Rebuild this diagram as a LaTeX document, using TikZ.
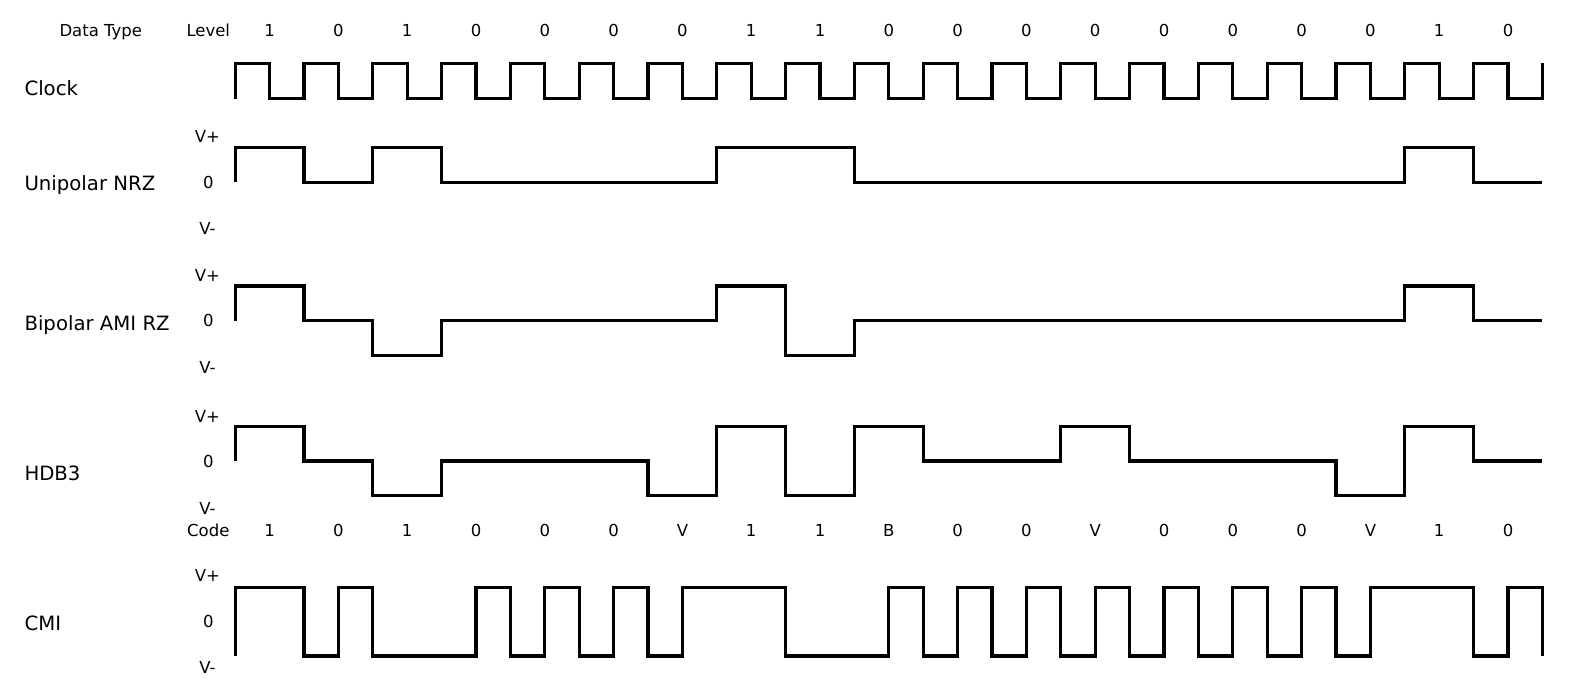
\documentclass[tikz,border=0pt]{standalone}
\usepackage{fontspec}
\setmainfont{DejaVu Sans}
\begin{document}
\begin{tikzpicture}[x=1pt,y=-1pt,
  wave/.style={line width=3.2pt, line join=miter},
  small/.style={font=\fontsize{16.5}{18}\selectfont, inner sep=0pt, anchor=base},
  big/.style={font=\fontsize{19.7}{22}\selectfont, inner sep=0pt, anchor=base west}]
\useasboundingbox[fill=white] (0,0) rectangle (1578,694);

% header row
\node[small] (datatype) at (100.8,36.5) {Data Type};
\node[small] (level) at (208.3,36.5) {Level};
\foreach \v [count=\i] in {1,0,1,0,0,0,0,1,1,0,0,0,0,0,0,0,0,1,0}
  \node[small] (d\i) at ({235.2+68.8*(\i-0.5)},36.5) {\v};

% code row
\node[small] (code) at (208.3,536) {Code};
\foreach \v [count=\i] in {1,0,1,0,0,0,V,1,1,B,0,0,V,0,0,0,V,1,0}
  \node[small] (c\i) at ({235.2+68.8*(\i-0.5)},536) {\v};

% row names
\node[big] (lclock) at (24.3,95) {Clock};
\node[big] (lnrz) at (24.3,190) {Unipolar NRZ};
\node[big] (lami) at (24.3,330) {Bipolar AMI RZ};
\node[big] (lhdb) at (24.3,480) {HDB3};
\node[big] (lcmi) at (24.3,630.5) {CMI};

% level labels
\node[small] (nrzp) at (207.5,142.5) {V+};
\node[small] (nrz0) at (208.3,188.5) {0};
\node[small] (nrzm) at (207.5,234.5) {V-};
\node[small] (amip) at (207.5,281) {V+};
\node[small] (ami0) at (208.3,326.7) {0};
\node[small] (amim) at (207.5,373) {V-};
\node[small] (hdbp) at (207.5,422) {V+};
\node[small] (hdb0) at (208.3,467.5) {0};
\node[small] (hdbm) at (207.5,514) {V-};
\node[small] (cmip) at (207.5,581.7) {V+};
\node[small] (cmi0) at (208.3,627.7) {0};
\node[small] (cmim) at (207.5,673.3) {V-};

\begin{scope}[x=34.4pt, xshift=235.2pt]
% clock
\draw[wave] (0,98.7) foreach \k in {0,...,18} { -- (2*\k,63.3) -- (2*\k+1,63.3) -- (2*\k+1,98.7) -- (2*\k+2,98.7) } -- (38,63.3);
% unipolar NRZ
\def\hi{147.3}\def\z{182.3}
\draw[wave] (0,\z) -- (0,\hi) -- (2,\hi) -- (2,\z) -- (4,\z) -- (4,\hi) -- (6,\hi) -- (6,\z)
  -- (14,\z) -- (14,\hi) -- (18,\hi) -- (18,\z) -- (34,\z) -- (34,\hi) -- (36,\hi) -- (36,\z) -- (38,\z);
% bipolar AMI
\def\hi{286}\def\z{320.7}\def\lo{355.5}
\draw[wave] (0,\z) -- (0,\hi) -- (2,\hi) -- (2,\z) -- (4,\z) -- (4,\lo) -- (6,\lo) -- (6,\z)
  -- (14,\z) -- (14,\hi) -- (16,\hi) -- (16,\lo) -- (18,\lo) -- (18,\z) -- (34,\z) -- (34,\hi)
  -- (36,\hi) -- (36,\z) -- (38,\z);
% HDB3
\def\hi{426.3}\def\z{461}\def\lo{495.7}
\draw[wave] (0,\z) -- (0,\hi) -- (2,\hi) -- (2,\z) -- (4,\z) -- (4,\lo) -- (6,\lo) -- (6,\z)
  -- (12,\z) -- (12,\lo) -- (14,\lo) -- (14,\hi) -- (16,\hi) -- (16,\lo) -- (18,\lo) -- (18,\hi)
  -- (20,\hi) -- (20,\z) -- (24,\z) -- (24,\hi) -- (26,\hi) -- (26,\z) -- (32,\z) -- (32,\lo)
  -- (34,\lo) -- (34,\hi) -- (36,\hi) -- (36,\z) -- (38,\z);
% CMI
\def\hi{587.7}\def\lo{656}
\draw[wave] (0,\lo) -- (0,\hi) -- (2,\hi) -- (2,\lo) -- (3,\lo) -- (3,\hi) -- (4,\hi) -- (4,\lo)
  -- (7,\lo) -- (7,\hi) -- (8,\hi) -- (8,\lo) -- (9,\lo) -- (9,\hi) -- (10,\hi) -- (10,\lo)
  -- (11,\lo) -- (11,\hi) -- (12,\hi) -- (12,\lo) -- (13,\lo) -- (13,\hi) -- (16,\hi) -- (16,\lo)
  -- (19,\lo) -- (19,\hi) -- (20,\hi) -- (20,\lo) -- (21,\lo) -- (21,\hi) -- (22,\hi) -- (22,\lo)
  -- (23,\lo) -- (23,\hi) -- (24,\hi) -- (24,\lo) -- (25,\lo) -- (25,\hi) -- (26,\hi) -- (26,\lo)
  -- (27,\lo) -- (27,\hi) -- (28,\hi) -- (28,\lo) -- (29,\lo) -- (29,\hi) -- (30,\hi) -- (30,\lo)
  -- (31,\lo) -- (31,\hi) -- (32,\hi) -- (32,\lo) -- (33,\lo) -- (33,\hi) -- (36,\hi) -- (36,\lo)
  -- (37,\lo) -- (37,\hi) -- (38,\hi) -- (38,\lo);
\end{scope}
\end{tikzpicture}
\end{document}
